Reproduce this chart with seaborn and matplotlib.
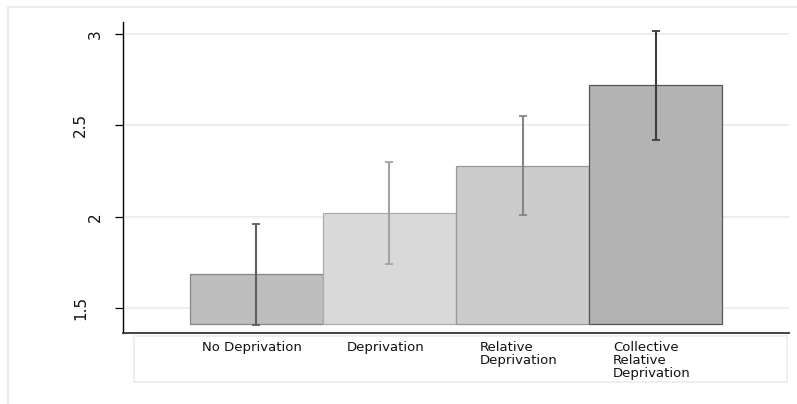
import matplotlib
matplotlib.use("Agg")
import matplotlib.pyplot as plt
import matplotlib.transforms as mtrans
from matplotlib.patches import Rectangle
import pandas as pd
import seaborn as sns

# Group means with 95% confidence bounds
groups = ["No Deprivation", "Deprivation", "Relative\nDeprivation",
          "Collective\nRelative\nDeprivation"]
means = [1.687, 2.019, 2.279, 2.719]
ci_low = [1.409, 1.743, 2.007, 2.420]
ci_high = [1.961, 2.297, 2.553, 3.016]
y_ticks = [1.5, 2, 2.5, 3]
y_tick_labels = ["1.5", "2", "2.5", "3"]
bar_base = 1.4126

fill_colors = ["#bebebe", "#d9d9d9", "#cccccc", "#b3b3b3"]
edge_colors = ["#858585", "#acacac", "#979797", "#565656"]
err_colors = ["#5e5e5e", "#a3a3a3", "#858585", "#3f3f3f"]

sns.set_theme(style="white")
plt.rcParams["font.family"] = ["DejaVu Sans"]

W, H = 797, 404
fig = plt.figure(figsize=(W / 100, H / 100), dpi=100)
fig.patch.set_facecolor("white")

# outer graph region frame
fig.patches.append(Rectangle((8 / W, -0.2), 2.0, 1 - 7 / H + 0.2,
                             transform=fig.transFigure, fill=False,
                             edgecolor="#ececec", lw=1.3, zorder=-2))
# box behind the category labels
fig.patches.append(Rectangle((134 / W, 1 - 382 / H), (787 - 134) / W, 46 / H,
                             transform=fig.transFigure, fill=False,
                             edgecolor="#ececec", lw=1.2, zorder=-2))

ax = fig.add_axes([123 / W, 1 - 333 / H, (789 - 123) / W, (333 - 22) / H])
ax.set_facecolor("none")

df = pd.DataFrame({"group": groups, "mean": means})
sns.barplot(data=df, x="group", y="mean", hue="group", palette=fill_colors,
            legend=False, width=1.0, errorbar=None, saturation=1,
            linewidth=0.9, ax=ax, zorder=2)

# bars rise from the common baseline rather than zero
for patch, ec in zip(ax.patches, edge_colors):
    top = patch.get_y() + patch.get_height()
    patch.set_y(bar_base)
    patch.set_height(top - bar_base)
    patch.set_edgecolor(ec)

for i, (m, lo, hi, c) in enumerate(zip(means, ci_low, ci_high, err_colors)):
    ax.errorbar(i, m, yerr=[[m - lo], [hi - m]], fmt="none", ecolor=c,
                elinewidth=1.5, capsize=3.2, capthick=1.3, zorder=4)

ax.set_xlim(-1, 4)
ax.set_ylim(1.365, 3.064)
ax.set_xlabel("")
ax.set_ylabel("")

ax.set_yticks(y_ticks, y_tick_labels)
ax.yaxis.grid(True, color="#ebebeb", lw=1.2)
ax.xaxis.grid(False)
ax.set_axisbelow(True)

for side in ("top", "right"):
    ax.spines[side].set_visible(False)
ax.spines["left"].set_color("black")
ax.spines["left"].set_linewidth(1.0)
ax.spines["bottom"].set_color("#333333")
ax.spines["bottom"].set_linewidth(1.3)

ax.tick_params(axis="y", left=True, length=6, width=0.9, color="black",
               pad=19, labelsize=11, labelrotation=90, labelcolor="#111111")
ax.tick_params(axis="x", bottom=False, length=0, pad=6, labelsize=9.5,
               labelcolor="#111111")

for lbl in ax.get_yticklabels():
    lbl.set_va("center")
    if len(lbl.get_text()) == 1:
        lbl.set_transform(lbl.get_transform() +
                          mtrans.ScaledTranslation(15 / 100, 0, fig.dpi_scale_trans))

for lbl in ax.get_xticklabels():
    lbl.set_multialignment("left")
    lbl.set_linespacing(1.0)
    lbl.set_transform(lbl.get_transform() +
                      mtrans.ScaledTranslation(-4 / 100, 0, fig.dpi_scale_trans))

fig.savefig("out.png", dpi=100, facecolor="white")
